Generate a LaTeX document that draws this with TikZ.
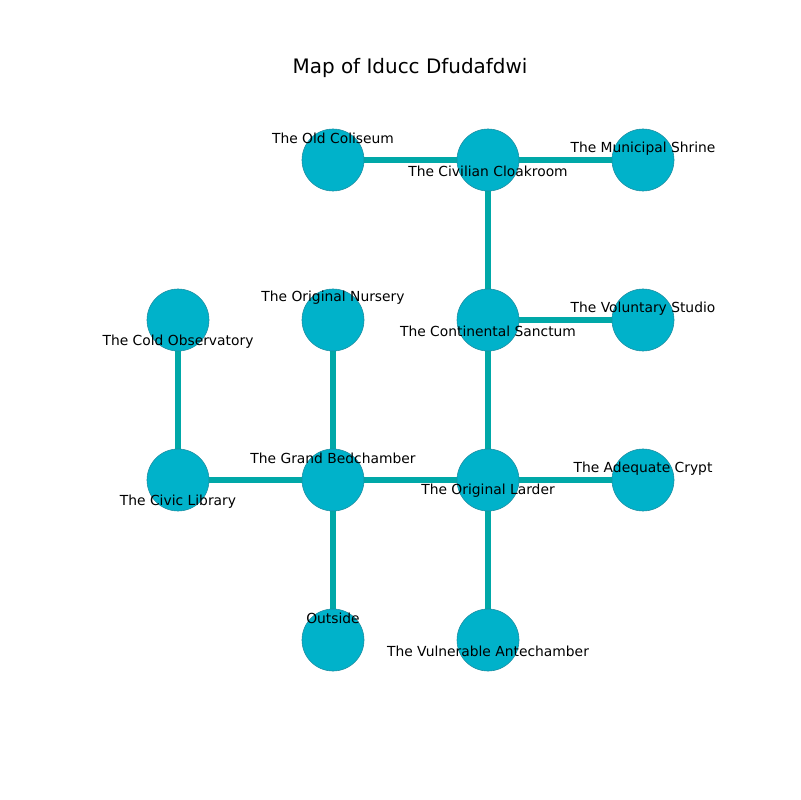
\documentclass[tikz,border=0pt]{standalone}
\usepackage{fontspec}
\setmainfont{DejaVu Sans}
\usetikzlibrary{calc}
\definecolor{roomfill}{RGB}{0,178,202}
\definecolor{roomedge}{RGB}{30,140,160}
\definecolor{passage}{RGB}{0,168,168}
\tikzset{
    room/.style={
        circle,
        draw=roomedge,
        line width=0.4pt,
        fill=roomfill,
        minimum size=0.62in,
        inner sep=0pt,
    },
    passage/.style={
        draw=passage,
        line width=3.8pt,
    },
    roomlabel/.style={
        font=\fontsize{10}{12}\selectfont,
        inner sep=0pt,
    }
}
\begin{document}
\begin{tikzpicture}[x=0.01in,y=-0.01in]

\useasboundingbox (0,0) rectangle (800,800);

\node[font=\fontsize{14.4}{17}\selectfont] (title) at (410,68) {Map of Iducc Dfudafdwi};

% rooms
\coordinate (coliseum) at (333,160);
\coordinate (cloakroom) at (488,160);
\coordinate (shrine) at (643,160);
\coordinate (observatory) at (178,320);
\coordinate (nursery) at (333,320);
\coordinate (sanctum) at (488,320);
\coordinate (studio) at (643,320);
\coordinate (library) at (178,480);
\coordinate (bedchamber) at (333,480);
\coordinate (larder) at (488,480);
\coordinate (crypt) at (643,480);
\coordinate (outside) at (333,640);
\coordinate (antechamber) at (488,640);

\draw[passage] (coliseum) -- (cloakroom);
\draw[passage] (cloakroom) -- (shrine);
\draw[passage] (cloakroom) -- (sanctum);
\draw[passage] (sanctum) -- (studio);
\draw[passage] (sanctum) -- (larder);
\draw[passage] (nursery) -- (bedchamber);
\draw[passage] (observatory) -- (library);
\draw[passage] (library) -- (bedchamber);
\draw[passage] (bedchamber) -- (larder);
\draw[passage] (larder) -- (crypt);
\draw[passage] (bedchamber) -- (outside);
\draw[passage] (larder) -- (antechamber);

\node[room] (r-coliseum) at (coliseum) {};
\node[room] (r-cloakroom) at (cloakroom) {};
\node[room] (r-shrine) at (shrine) {};
\node[room] (r-observatory) at (observatory) {};
\node[room] (r-nursery) at (nursery) {};
\node[room] (r-sanctum) at (sanctum) {};
\node[room] (r-studio) at (studio) {};
\node[room] (r-library) at (library) {};
\node[room] (r-bedchamber) at (bedchamber) {};
\node[room] (r-larder) at (larder) {};
\node[room] (r-crypt) at (crypt) {};
\node[room] (r-outside) at (outside) {};
\node[room] (r-antechamber) at (antechamber) {};

% labels
\node[roomlabel] (l-coliseum) at ($(coliseum)+(0,-22)$) {The Old Coliseum};
\node[roomlabel] (l-cloakroom) at ($(cloakroom)+(0,11)$) {The Civilian Cloakroom};
\node[roomlabel] (l-shrine) at ($(shrine)+(0,-11)$) {The Municipal Shrine};
\node[roomlabel] (l-observatory) at ($(observatory)+(0,22)$) {The Cold Observatory};
\node[roomlabel] (l-nursery) at ($(nursery)+(0,-22)$) {The Original Nursery};
\node[roomlabel] (l-sanctum) at ($(sanctum)+(0,11)$) {The Continental Sanctum};
\node[roomlabel] (l-studio) at ($(studio)+(0,-11)$) {The Voluntary Studio};
\node[roomlabel] (l-library) at ($(library)+(0,22)$) {The Civic Library};
\node[roomlabel] (l-bedchamber) at ($(bedchamber)+(0,-22)$) {The Grand Bedchamber};
\node[roomlabel] (l-larder) at ($(larder)+(0,11)$) {The Original Larder};
\node[roomlabel] (l-crypt) at ($(crypt)+(0,-11)$) {The Adequate Crypt};
\node[roomlabel] (l-outside) at ($(outside)+(0,-22)$) {Outside};
\node[roomlabel] (l-antechamber) at ($(antechamber)+(0,11)$) {The Vulnerable Antechamber};

\end{tikzpicture}
\end{document}
